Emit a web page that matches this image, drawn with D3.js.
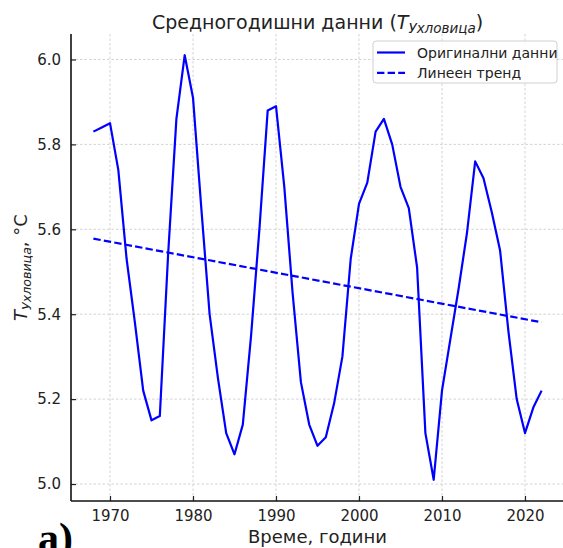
<!DOCTYPE html>
<html>
<head>
<meta charset="utf-8">
<script src="https://cdn.jsdelivr.net/npm/d3@7"></script>
<style>
  body { margin: 0; background: #fff; }
  svg { display: block; font-family: "DejaVu Sans", sans-serif; }
</style>
</head>
<body>
<svg id="chart" width="563" height="548"></svg>
<script>
const years = [1968, 1969, 1970, 1971, 1972, 1973, 1974, 1975, 1976, 1977,
  1978, 1979, 1980, 1981, 1982, 1983, 1984, 1985, 1986, 1987,
  1988, 1989, 1990, 1991, 1992, 1993, 1994, 1995, 1996, 1997,
  1998, 1999, 2000, 2001, 2002, 2003, 2004, 2005, 2006, 2007,
  2008, 2009, 2010, 2011, 2012, 2013, 2014, 2015, 2016, 2017,
  2018, 2019, 2020, 2021, 2022]
const temps = [5.83, 5.84, 5.85, 5.74, 5.53, 5.38, 5.22, 5.15, 5.16, 5.54,
  5.86, 6.01, 5.91, 5.65, 5.40, 5.25, 5.12, 5.07, 5.14, 5.35,
  5.60, 5.88, 5.89, 5.70, 5.45, 5.24, 5.14, 5.09, 5.11, 5.19,
  5.30, 5.53, 5.66, 5.71, 5.83, 5.86, 5.80, 5.70, 5.65, 5.51,
  5.12, 5.01, 5.22, 5.34, 5.46, 5.59, 5.76, 5.72, 5.64, 5.55,
  5.36, 5.20, 5.12, 5.18, 5.22]
const trendYears = [1968, 2022]
const trendTemps = [5.578, 5.381]
const xTicks = [1970, 1980, 1990, 2000, 2010, 2020]
const yTicks = [5.0, 5.2, 5.4, 5.6, 5.8, 6.0]
const legendLabels = ['Оригинални данни', 'Линеен тренд']

const svg = d3.select('#chart')
const margin = {top: 34, left: 71, bottom: 501, right: 564}

const xScale = d3.scaleLinear().domain([1965.3, 2024.7]).range([margin.left, margin.right])
const yScale = d3.scaleLinear().domain([4.96, 6.06]).range([margin.bottom, margin.top])

// grid
svg.append('g')
  .selectAll('line')
  .data(xTicks)
  .join('line')
  .attr('x1', d => xScale(d)).attr('x2', d => xScale(d))
  .attr('y1', margin.top).attr('y2', margin.bottom)
  .attr('stroke', '#c8c8c8').attr('stroke-width', 0.8).attr('stroke-dasharray', '2.5,2')

svg.append('g')
  .selectAll('line')
  .data(yTicks)
  .join('line')
  .attr('x1', margin.left).attr('x2', margin.right)
  .attr('y1', d => yScale(d)).attr('y2', d => yScale(d))
  .attr('stroke', '#c8c8c8').attr('stroke-width', 0.8).attr('stroke-dasharray', '2.5,2')

// axes (ticks point inwards)
const xAxis = d3.axisBottom(xScale).tickValues(xTicks).tickFormat(d3.format('d'))
  .tickSizeInner(-5).tickSizeOuter(0).tickPadding(9)
const yAxis = d3.axisLeft(yScale).tickValues(yTicks).tickFormat(d3.format('.1f'))
  .tickSizeInner(-5).tickSizeOuter(0).tickPadding(10)

const gx = svg.append('g')
  .attr('transform', `translate(0, ${margin.bottom})`)
  .call(xAxis)
gx.select('.domain').remove()
gx.selectAll('text').attr('font-size', 15).attr('fill', '#222').attr('font-family', 'DejaVu Sans')
gx.selectAll('line').attr('stroke', '#222').attr('stroke-width', 1.2)

const gy = svg.append('g')
  .attr('transform', `translate(${margin.left}, 0)`)
  .call(yAxis)
gy.select('.domain').remove()
gy.selectAll('text').attr('font-size', 15).attr('fill', '#222').attr('font-family', 'DejaVu Sans')
gy.selectAll('line').attr('stroke', '#222').attr('stroke-width', 1.2)

// spines
svg.append('line')
  .attr('x1', margin.left).attr('x2', margin.left)
  .attr('y1', margin.top).attr('y2', margin.bottom)
  .attr('stroke', '#111').attr('stroke-width', 1.6)
svg.append('line')
  .attr('x1', margin.left).attr('x2', margin.right)
  .attr('y1', margin.bottom).attr('y2', margin.bottom)
  .attr('stroke', '#111').attr('stroke-width', 1.6)

// lines
const line = d3.line()
  .x(d => xScale(d[0]))
  .y(d => yScale(d[1]))

svg.append('path')
  .datum(d3.zip(years, temps))
  .attr('fill', 'none')
  .attr('stroke', '#0000ff')
  .attr('stroke-width', 2.2)
  .attr('stroke-linejoin', 'round')
  .attr('d', line)

svg.append('path')
  .datum(d3.zip(trendYears, trendTemps))
  .attr('fill', 'none')
  .attr('stroke', '#0000ff')
  .attr('stroke-width', 2.2)
  .attr('stroke-dasharray', '7.4,3.2')
  .attr('d', line)

// title
const title = svg.append('text')
  .attr('x', (margin.left + margin.right) / 2)
  .attr('y', 29)
  .attr('text-anchor', 'middle')
  .attr('font-size', 19)
  .attr('fill', '#222')
title.append('tspan').text('Средногодишни данни (')
title.append('tspan').attr('font-style', 'italic').text('T')
title.append('tspan').attr('font-style', 'italic').attr('font-size', 13.5).attr('dy', 4).text('Ухловица')
title.append('tspan').attr('dy', -4).text(')')

// axis labels
svg.append('text')
  .attr('x', (margin.left + margin.right) / 2)
  .attr('y', 543)
  .attr('text-anchor', 'middle')
  .attr('font-size', 18)
  .attr('fill', '#222')
  .text('Време, години')

const ylab = svg.append('text')
  .attr('transform', `translate(27, ${(margin.top + margin.bottom) / 2}) rotate(-90)`)
  .attr('text-anchor', 'middle')
  .attr('font-size', 18)
  .attr('fill', '#222')
ylab.append('tspan').attr('font-style', 'italic').text('T')
ylab.append('tspan').attr('font-style', 'italic').attr('font-size', 12.6).attr('dy', 4).text('Ухловица')
ylab.append('tspan').attr('dy', -4).text(', °C')

// legend
const legend = svg.append('g').attr('transform', 'translate(373, 41)')
legend.append('rect')
  .attr('width', 184).attr('height', 42).attr('rx', 3)
  .attr('fill', 'white').attr('fill-opacity', 0.8)
  .attr('stroke', '#d0d0d0').attr('stroke-width', 1)
legendLabels.forEach((label, i) => {
  const row = legend.append('g').attr('transform', `translate(0, ${11.5 + i * 20.4})`)
  row.append('line')
    .attr('x1', 4).attr('x2', 32)
    .attr('stroke', '#0000ff').attr('stroke-width', 2.2)
    .attr('stroke-dasharray', i === 1 ? '7.4,3.2' : null)
  row.append('text')
    .attr('x', 44).attr('y', 5)
    .attr('font-size', 14)
    .attr('fill', '#222')
    .text(label)
})

// panel letter, cut by the image edge as in the source figure
svg.append('text')
  .attr('x', 38).attr('y', 552)
  .attr('font-family', '"Liberation Serif", serif')
  .attr('font-weight', 'bold')
  .attr('font-size', 42)
  .attr('fill', '#000')
  .text('а)')
</script>
</body>
</html>
